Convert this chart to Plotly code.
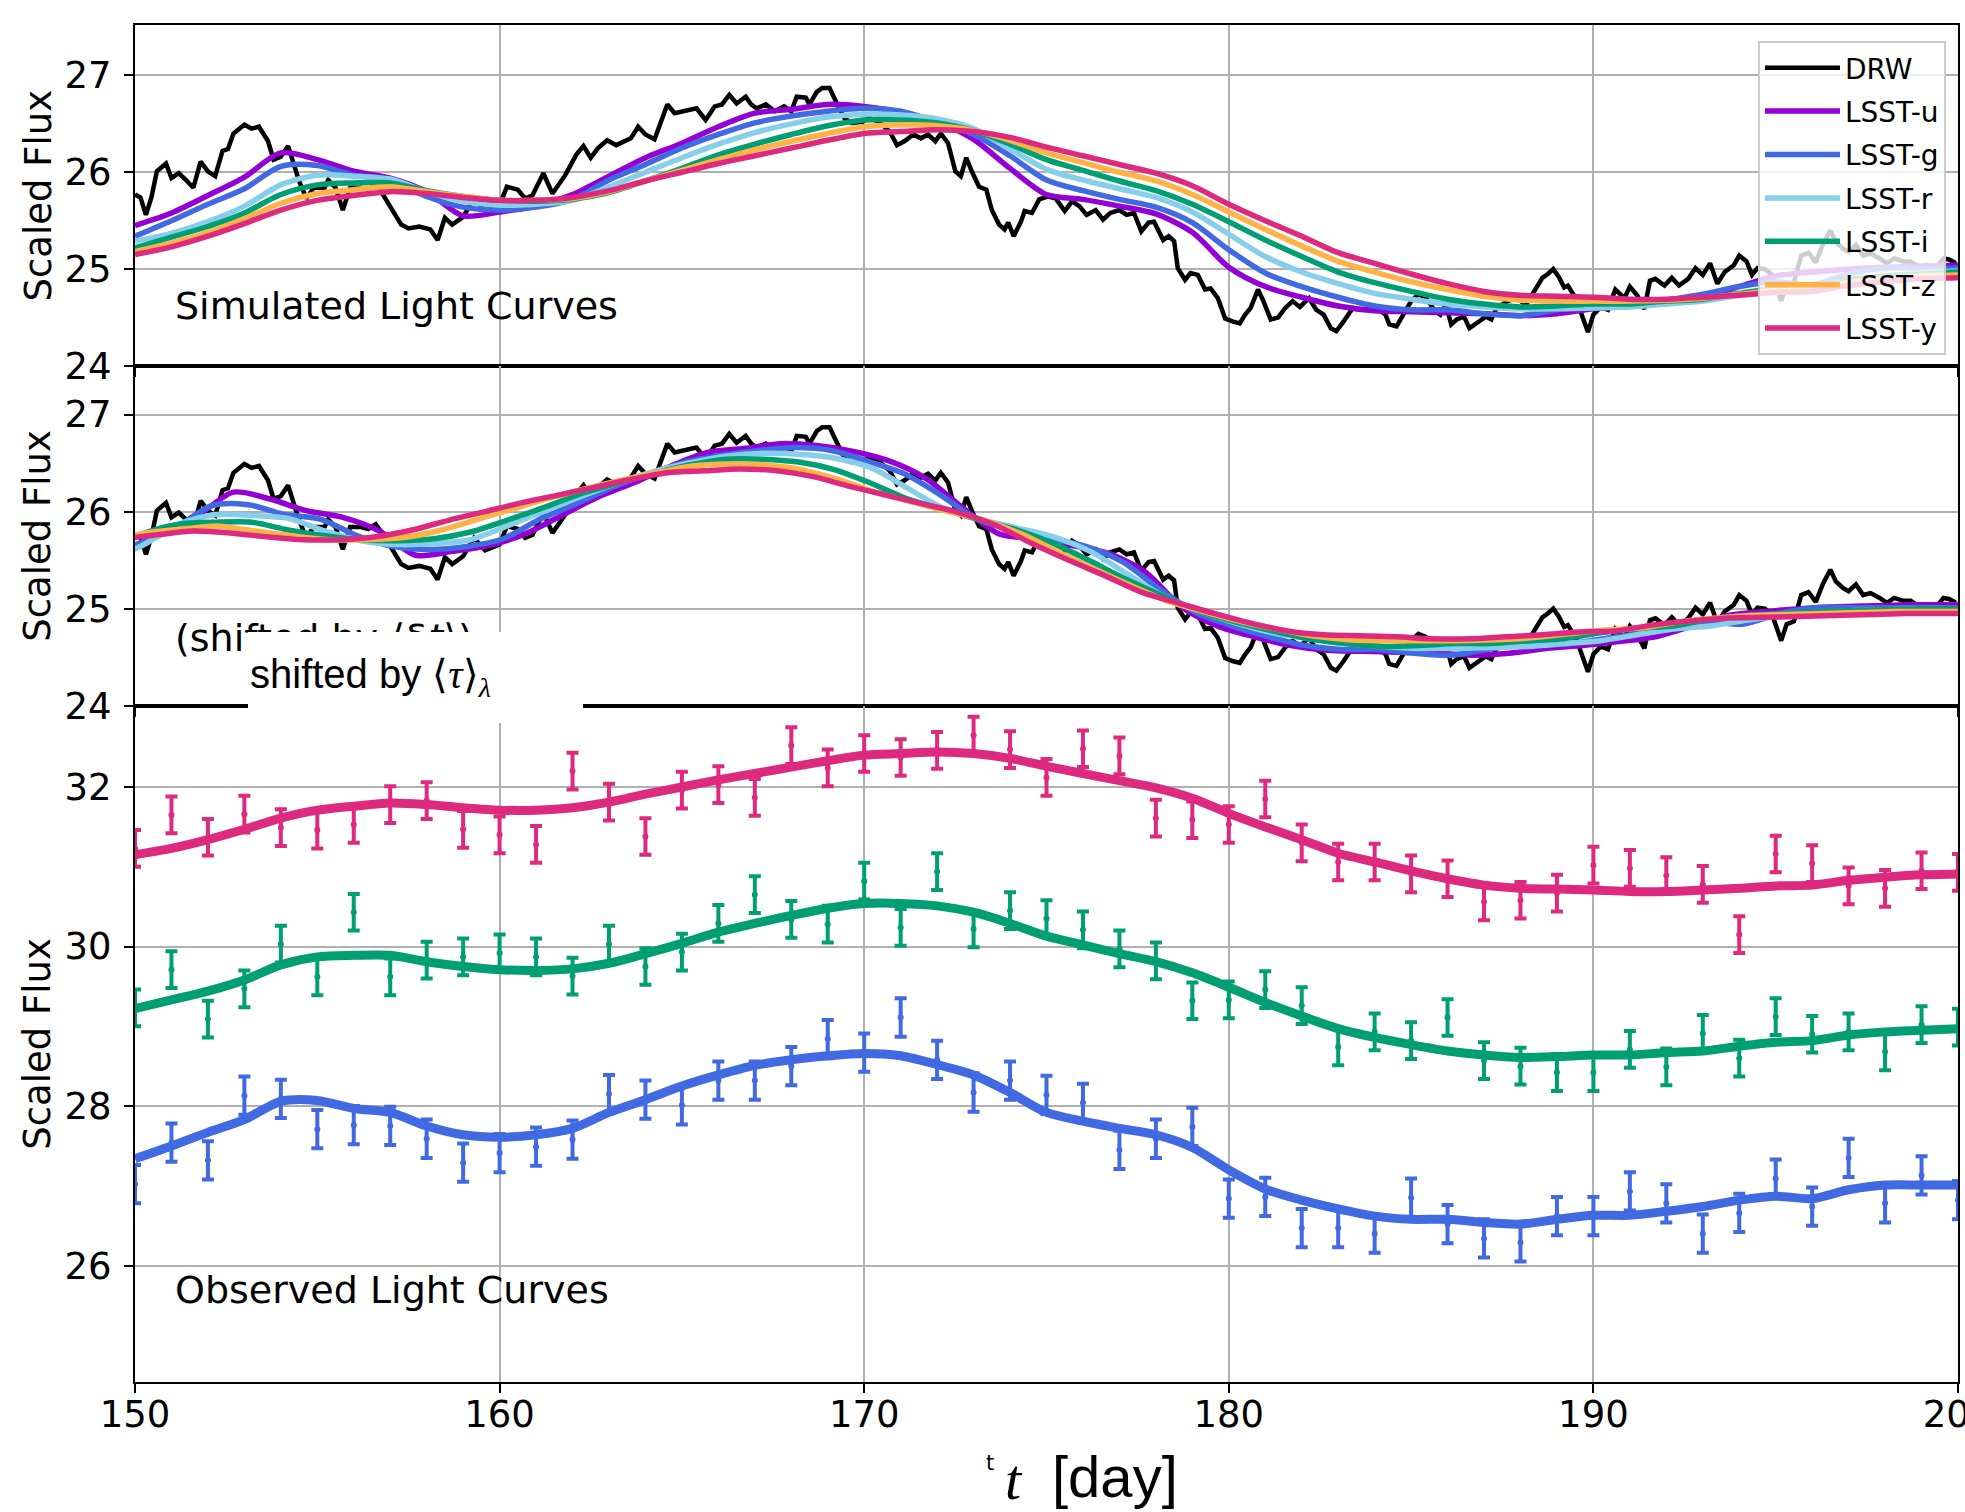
import plotly.graph_objects as go

# ---------------- data ----------------
T = list(range(150, 207))  # daily grid (values past 200 only matter for the shifted panel)

obs_curve_g = [27.34, 27.50, 27.67, 27.83, 28.06, 28.07, 27.97, 27.92, 27.75, 27.64,
               27.61, 27.64, 27.72, 27.92, 28.08, 28.25, 28.39, 28.51, 28.58, 28.63,
               28.66, 28.63, 28.52, 28.39, 28.17, 27.92, 27.81, 27.72, 27.64, 27.48,
               27.20, 26.96, 26.82, 26.71, 26.62, 26.58, 26.58, 26.54, 26.52, 26.58,
               26.63, 26.63, 26.68, 26.74, 26.82, 26.87, 26.84, 26.95, 27.01, 27.01, 27.01,
               27.01, 27.00, 27.00, 27.00, 27.00, 27.00]
obs_curve_i = [29.22, 29.33, 29.44, 29.58, 29.77, 29.87, 29.89, 29.89, 29.81, 29.75,
               29.71, 29.70, 29.72, 29.79, 29.91, 30.04, 30.18, 30.29, 30.39, 30.48,
               30.54, 30.54, 30.51, 30.43, 30.29, 30.13, 30.02, 29.91, 29.81, 29.67,
               29.49, 29.30, 29.13, 28.97, 28.86, 28.77, 28.69, 28.64, 28.61, 28.62,
               28.64, 28.64, 28.67, 28.69, 28.75, 28.80, 28.82, 28.89, 28.93, 28.95, 28.97,
               28.98, 28.99, 29.00, 29.00, 29.00, 29.00]
obs_curve_y = [31.15, 31.23, 31.34, 31.47, 31.61, 31.71, 31.76, 31.80, 31.78, 31.74,
               31.71, 31.71, 31.74, 31.81, 31.91, 32.00, 32.09, 32.17, 32.25, 32.33,
               32.40, 32.42, 32.44, 32.42, 32.36, 32.26, 32.17, 32.08, 31.99, 31.86,
               31.67, 31.50, 31.34, 31.17, 31.06, 30.95, 30.85, 30.77, 30.73, 30.72,
               30.71, 30.69, 30.69, 30.71, 30.73, 30.76, 30.77, 30.83, 30.87, 30.90, 30.91,
               30.92, 30.93, 30.94, 30.95, 30.95, 30.95]
OFFSET = {"g": 2.0, "i": 4.0, "y": 6.0}

# remaining simulated bands (panel-1 scale)
flux_u = [25.45, 25.58, 25.76, 25.95, 26.20, 26.13, 26.01, 25.94, 25.80, 25.55,
          25.59, 25.65, 25.77, 25.96, 26.15, 26.30, 26.47, 26.61, 26.65, 26.70,
          26.68, 26.62, 26.52, 26.34, 26.04, 25.77, 25.72, 25.65, 25.57, 25.38,
          25.02, 24.82, 24.71, 24.62, 24.57, 24.56, 24.55, 24.54, 24.52, 24.54,
          24.59, 24.62, 24.66, 24.71, 24.82, 24.93, 24.97, 25.00, 25.02, 25.03, 25.04,
          25.04, 25.04, 25.03, 25.03, 25.02, 25.02]
flux_r = [25.29, 25.37, 25.49, 25.65, 25.87, 25.97, 25.96, 25.93, 25.80, 25.70,
          25.66, 25.67, 25.71, 25.85, 26.00, 26.15, 26.29, 26.41, 26.50, 26.57,
          26.60, 26.59, 26.55, 26.45, 26.24, 26.03, 25.92, 25.83, 25.74, 25.59,
          25.36, 25.13, 24.97, 24.85, 24.75, 24.69, 24.64, 24.61, 24.59, 24.59,
          24.60, 24.61, 24.64, 24.67, 24.73, 24.79, 24.82, 24.88, 24.93, 24.96, 24.98,
          24.99, 25.00, 25.00, 25.00, 25.00, 25.00]
flux_z = [25.18, 25.27, 25.38, 25.52, 25.68, 25.78, 25.82, 25.85, 25.80, 25.75,
          25.71, 25.71, 25.73, 25.80, 25.91, 26.02, 26.13, 26.23, 26.32, 26.40,
          26.47, 26.49, 26.48, 26.43, 26.33, 26.20, 26.10, 26.00, 25.91, 25.77,
          25.59, 25.41, 25.24, 25.08, 24.97, 24.87, 24.79, 24.72, 24.68, 24.67,
          24.67, 24.67, 24.68, 24.70, 24.74, 24.78, 24.80, 24.86, 24.90, 24.93, 24.94,
          24.95, 24.96, 24.97, 24.97, 24.97, 24.97]

# mean lags used for the shifted panel (days)
LAG = {"u": 1.3, "g": 1.9, "r": 2.8, "i": 3.8, "z": 4.7, "y": 5.4}

# driving DRW light curve
drw_t = [150.0, 150.15, 150.3, 150.45, 150.6, 150.85, 151.0, 151.2, 151.4, 151.6, 151.8, 152.0, 152.2,
         152.4, 152.55, 152.7, 153.0, 153.2, 153.4, 153.65, 153.8, 154.0, 154.2, 154.35, 154.5, 154.7,
         154.9, 155.2, 155.3, 155.5, 155.7, 155.9, 156.2, 156.4, 156.6, 156.8, 157.0, 157.3, 157.5,
         157.8, 158.1, 158.3, 158.5, 158.7, 159.0, 159.3, 159.6, 160.0, 160.2, 160.5, 160.7, 160.9,
         161.2, 161.45, 161.8, 162.1, 162.3, 162.5, 162.7, 162.95, 163.2, 163.4, 163.6, 163.8, 164.0,
         164.25, 164.6, 164.8, 165.2, 165.4, 165.65, 165.9, 166.1, 166.3, 166.5, 166.75, 166.9, 167.05,
         167.3, 167.55, 167.8, 168.0, 168.15, 168.4, 168.5, 168.7, 168.85, 169.05, 169.2, 169.45,
         169.65, 169.95, 170.15, 170.4, 170.7, 170.9, 171.1, 171.35, 171.55, 171.75, 171.95, 172.1,
         172.3, 172.5, 172.65, 172.8, 172.95, 173.15, 173.35, 173.5, 173.7, 173.85, 173.95, 174.1,
         174.3, 174.4, 174.6, 174.8, 175.05, 175.25, 175.5, 175.7, 175.9, 176.1, 176.35, 176.55,
         176.75, 177.0, 177.2, 177.4, 177.6, 177.8, 177.95, 178.2, 178.35, 178.5, 178.6, 178.8,
         178.95, 179.15, 179.35, 179.5, 179.7, 179.9, 180.1, 180.3, 180.45, 180.6, 180.8, 180.95,
         181.15, 181.35, 181.55, 181.75, 181.95, 182.2, 182.4, 182.6, 182.8, 182.95, 183.15, 183.4,
         183.7, 184.0, 184.3, 184.4, 184.6, 184.8, 185.0, 185.2, 185.4, 185.65, 185.8, 185.95, 186.1,
         186.25, 186.45, 186.6, 186.85, 187.05, 187.2, 187.35, 187.65, 187.9, 188.15, 188.45, 188.6,
         188.75, 188.9, 189.05, 189.2, 189.3, 189.5, 189.65, 189.85, 190.0, 190.2, 190.4, 190.6,
         190.85, 191.0, 191.2, 191.4, 191.55, 191.7, 191.95, 192.15, 192.35, 192.6, 192.8, 193.0,
         193.2, 193.4, 193.6, 193.85, 194.0, 194.2, 194.35, 194.5, 194.7, 194.9, 195.15, 195.3,
         195.5, 195.7, 195.9, 196.1, 196.3, 196.5, 196.65, 196.85, 197.0, 197.2, 197.4, 197.6,
         197.85, 198.05, 198.25, 198.5, 198.7, 198.9, 199.15, 199.35, 199.6, 199.75, 199.9, 200.0]
drw_f = [25.77, 25.74, 25.56, 25.74, 26.01, 26.09, 25.94, 25.99, 25.92, 25.84, 26.11, 26.01, 25.96,
         26.22, 26.24, 26.40, 26.49, 26.45, 26.47, 26.32, 26.13, 26.16, 26.27, 26.08, 25.91, 25.73,
         25.84, 25.84, 25.92, 25.84, 25.61, 25.84, 25.84, 25.82, 25.87, 25.77, 25.65, 25.46, 25.42,
         25.44, 25.41, 25.30, 25.53, 25.46, 25.54, 25.73, 25.60, 25.66, 25.85, 25.82, 25.73, 25.76,
         25.99, 25.78, 25.97, 26.18, 26.27, 26.15, 26.25, 26.33, 26.28, 26.32, 26.35, 26.47, 26.39,
         26.34, 26.70, 26.61, 26.65, 26.66, 26.54, 26.68, 26.70, 26.80, 26.71, 26.78, 26.70, 26.66,
         26.70, 26.63, 26.68, 26.63, 26.78, 26.77, 26.70, 26.83, 26.87, 26.87, 26.75, 26.56,
         26.51, 26.52, 26.56, 26.52, 26.42, 26.28, 26.32, 26.39, 26.35, 26.39, 26.32, 26.40,
         26.30, 26.01, 25.96, 26.15, 26.01, 25.85, 25.82, 25.61, 25.46, 25.41, 25.48, 25.34,
         25.49, 25.60, 25.58, 25.72, 25.75, 25.73, 25.60, 25.70, 25.65, 25.56, 25.61, 25.51,
         25.58, 25.61, 25.56, 25.58, 25.39, 25.48, 25.49, 25.30, 25.34, 25.29, 25.01, 24.89,
         24.96, 24.94, 24.79, 24.80, 24.70, 24.49, 24.46, 24.44, 24.53, 24.60, 24.79, 24.67,
         24.48, 24.50, 24.60, 24.67, 24.61, 24.70, 24.58, 24.53, 24.39, 24.36, 24.46, 24.60,
         24.58, 24.62, 24.53, 24.43, 24.41, 24.53, 24.67, 24.74, 24.71, 24.57, 24.53, 24.64, 24.43,
         24.48, 24.51, 24.39, 24.46, 24.51, 24.48, 24.60, 24.67, 24.70, 24.63, 24.81, 24.91,
         24.95, 25.00, 24.92, 24.81, 24.83, 24.71, 24.56, 24.35, 24.53, 24.61, 24.58, 24.79,
         24.70, 24.82, 24.73, 24.59, 24.88, 24.90, 24.83, 24.91, 24.83, 24.90, 25.01, 24.94,
         25.06, 24.85, 24.97, 25.04, 25.14, 25.08, 24.94, 25.01, 25.00, 24.94, 24.67, 24.84,
         24.87, 25.14, 25.17, 25.07, 25.26, 25.40, 25.28, 25.21, 25.18, 25.25, 25.14, 25.16,
         25.11, 25.06, 25.11, 25.08, 25.08, 25.03, 25.04, 24.99, 25.11, 25.10, 25.07, 24.93]

# observed (daily) points, panel-3 scale
obs_t = list(range(150, 201))
obs_y = [31.23, 31.65, 31.37, 31.66, 31.49, 31.46, 31.53, 31.78, 31.83, 31.47, 31.40, 31.28, 32.20,
         31.81, 31.38, 31.96, 32.03, 31.87, 32.52, 32.24, 32.42, 32.37, 32.46, 32.65, 32.47, 32.12,
         32.48, 32.39, 31.61, 31.59, 31.53, 31.85, 31.30, 31.06, 31.06, 30.91, 30.85, 30.56, 30.58,
         30.67, 31.02, 30.98, 30.89, 30.78, 30.15, 31.16, 31.04, 30.76, 30.73, 30.95, 30.93]
obs_i = [29.23, 29.71, 29.09, 29.47, 30.03, 29.62, 30.43, 29.62, 29.83, 29.87, 29.92, 29.87, 29.63,
         30.03, 29.75, 29.93, 30.29, 30.65, 30.34, 30.28, 30.82, 30.24, 30.94, 30.22, 30.45, 30.35,
         30.21, 29.97, 29.82, 29.32, 29.33, 29.46, 29.26, 28.74, 28.93, 28.82, 29.11, 28.57, 28.50,
         28.42, 28.42, 28.71, 28.49, 28.91, 28.60, 29.12, 28.90, 28.93, 28.68, 29.02, 28.99]
obs_g = [27.02, 27.54, 27.32, 28.13, 28.09, 27.71, 27.76, 27.75, 27.59, 27.29, 27.41, 27.49, 27.58,
         28.15, 28.08, 28.01, 28.32, 28.32, 28.50, 28.84, 28.67, 29.11, 28.58, 28.17, 28.32, 28.14,
         28.04, 27.45, 27.59, 27.74, 26.84, 26.86, 26.47, 26.47, 26.40, 26.85, 26.52, 26.34, 26.29,
         26.62, 26.62, 26.93, 26.78, 26.40, 26.66, 27.09, 26.74, 27.35, 26.78, 27.13, 26.82]
ERR = {"g": 0.24, "i": 0.23, "y": 0.23}

COLORS = {"u": "#9400D3", "g": "#4169E1", "r": "#87CEEB", "i": "#009E73",
          "z": "#FFB347", "y": "#DD2A7E"}

flux = {
    "u": flux_u,
    "g": [v - OFFSET["g"] for v in obs_curve_g],
    "r": flux_r,
    "i": [v - OFFSET["i"] for v in obs_curve_i],
    "z": flux_z,
    "y": [v - OFFSET["y"] for v in obs_curve_y],
}
BANDS = ["u", "g", "r", "i", "z", "y"]

# ---------------- figure ----------------
fig = go.Figure()

# panel 1 : simulated
fig.add_trace(go.Scatter(x=drw_t, y=drw_f, mode="lines", name="DRW", legendgroup="DRW",
                         line=dict(color="black", width=4.5), xaxis="x", yaxis="y"))
for b in BANDS:
    fig.add_trace(go.Scatter(x=T, y=flux[b], mode="lines", name="LSST-" + b, legendgroup=b,
                             line=dict(color=COLORS[b], width=5.5, shape="spline", smoothing=0.8),
                             xaxis="x", yaxis="y"))

# panel 2 : shifted
fig.add_trace(go.Scatter(x=drw_t, y=drw_f, mode="lines", showlegend=False, legendgroup="DRW",
                         line=dict(color="black", width=4.5), xaxis="x2", yaxis="y2"))
for b in BANDS:
    fig.add_trace(go.Scatter(x=[t - LAG[b] for t in T], y=flux[b], mode="lines", showlegend=False,
                             legendgroup=b,
                             line=dict(color=COLORS[b], width=5.5, shape="spline", smoothing=0.8),
                             xaxis="x2", yaxis="y2"))

# panel 3 : observed
for b, curve in [("y", obs_curve_y), ("i", obs_curve_i), ("g", obs_curve_g)]:
    fig.add_trace(go.Scatter(x=T, y=curve, mode="lines", showlegend=False,
                             line=dict(color=COLORS[b], width=9, shape="spline", smoothing=0.8),
                             xaxis="x3", yaxis="y3"))
for b, pts in [("y", obs_y), ("i", obs_i), ("g", obs_g)]:
    fig.add_trace(go.Scatter(x=obs_t, y=pts, mode="markers", showlegend=False,
                             marker=dict(color=COLORS[b], size=6),
                             error_y=dict(type="constant", value=ERR[b], color=COLORS[b],
                                          thickness=4, width=6),
                             xaxis="x3", yaxis="y3"))

TICKFONT = dict(family="DejaVu Sans", size=37, color="black")
axis_common = dict(showgrid=True, gridcolor="#b0b0b0", gridwidth=1.5, showline=True,
                   linecolor="black", linewidth=2, mirror=True, ticks="outside", ticklen=9,
                   tickwidth=2, tickcolor="black", zeroline=False, tickfont=TICKFONT,
                   automargin=False)
xcommon = dict(axis_common, range=[150, 200], tick0=150, dtick=10)

D1 = [0.7487, 1.0]
D2 = [0.4984, 0.7487]
D3 = [0.0, 0.4984]

fig.update_layout(
    width=1965, height=1512,
    margin=dict(l=135, r=7, t=25, b=130, autoexpand=False),
    paper_bgcolor="white", plot_bgcolor="white",
    xaxis=dict(xcommon, anchor="y", showticklabels=False),
    xaxis2=dict(xcommon, anchor="y2", matches="x", showticklabels=False),
    xaxis3=dict(xcommon, anchor="y3", matches="x", showticklabels=True,
                ticklabelstandoff=-10, ticklabeloverflow="allow"),
    yaxis=dict(axis_common, domain=D1, range=[24, 27.52], tick0=24, dtick=1, ticklabelstandoff=5),
    yaxis2=dict(axis_common, domain=D2, range=[24, 27.5], tick0=24, dtick=1, ticklabelstandoff=5),
    yaxis3=dict(axis_common, domain=D3, range=[24.54, 33.02], tick0=24, dtick=2, ticklabelstandoff=5),
    legend=dict(x=0.9934, xanchor="right", y=0.9882, yanchor="top",
                font=dict(family="DejaVu Sans", size=28, color="black"),
                bgcolor="rgba(255,255,255,0.8)", bordercolor="#cccccc", borderwidth=2,
                tracegroupgap=4, itemwidth=75, traceorder="grouped"),
    showlegend=True,
)

ann = []
ylab = dict(xref="paper", yref="paper", x=-0.0532, textangle=-90, showarrow=False,
            font=dict(family="DejaVu Sans", size=37, color="black"), text="Scaled Flux")
for d in (D1, D2, D3):
    ann.append(dict(ylab, y=(d[0] + d[1]) / 2, xanchor="center", yanchor="middle"))

lbl = dict(xref="paper", yref="paper", showarrow=False, xanchor="left", yanchor="middle",
           font=dict(family="DejaVu Sans", size=38, color="black"))
ann.append(dict(lbl, x=0.0208, y=0.7929, text="Simulated Light Curves"))
ann.append(dict(lbl, x=0.0208, y=0.0678, text="Observed Light Curves"))
ann.append(dict(lbl, x=0.0208, y=0.5483, text="(shifted by ⟨δ<i>t</i>⟩)"))
ann.append(dict(xref="paper", yref="paper", showarrow=False, xanchor="left", yanchor="middle",
                x=0.0620, y=0.5192, width=331, height=87, bgcolor="white", borderpad=2,
                borderwidth=0, align="left", valign="middle",
                font=dict(family="Liberation Sans", size=40, color="black"),
                text="shifted by <span style='font-family:Liberation Serif'>⟨<i>τ</i>⟩<sub><i>λ</i></sub></span>"))
# x-axis title pieces
ann.append(dict(xref="paper", yref="paper", showarrow=False, x=0.469, y=-0.0597,
                xanchor="center", yanchor="middle", text="t",
                font=dict(family="DejaVu Sans", size=21, color="black")))
ann.append(dict(xref="paper", yref="paper", showarrow=False, x=0.4822, y=-0.0715,
                xanchor="center", yanchor="middle", text="<i>t</i>",
                font=dict(family="Liberation Serif", size=58, color="black")))
ann.append(dict(xref="paper", yref="paper", showarrow=False, x=0.5376, y=-0.0700,
                xanchor="center", yanchor="middle", text="[day]",
                font=dict(family="Liberation Sans", size=58, color="black")))
fig.update_layout(annotations=ann)

fig.write_html("out.html", config={"displayModeBar": False},
               post_script="document.body.style.margin='0';document.body.style.overflow='hidden';")
